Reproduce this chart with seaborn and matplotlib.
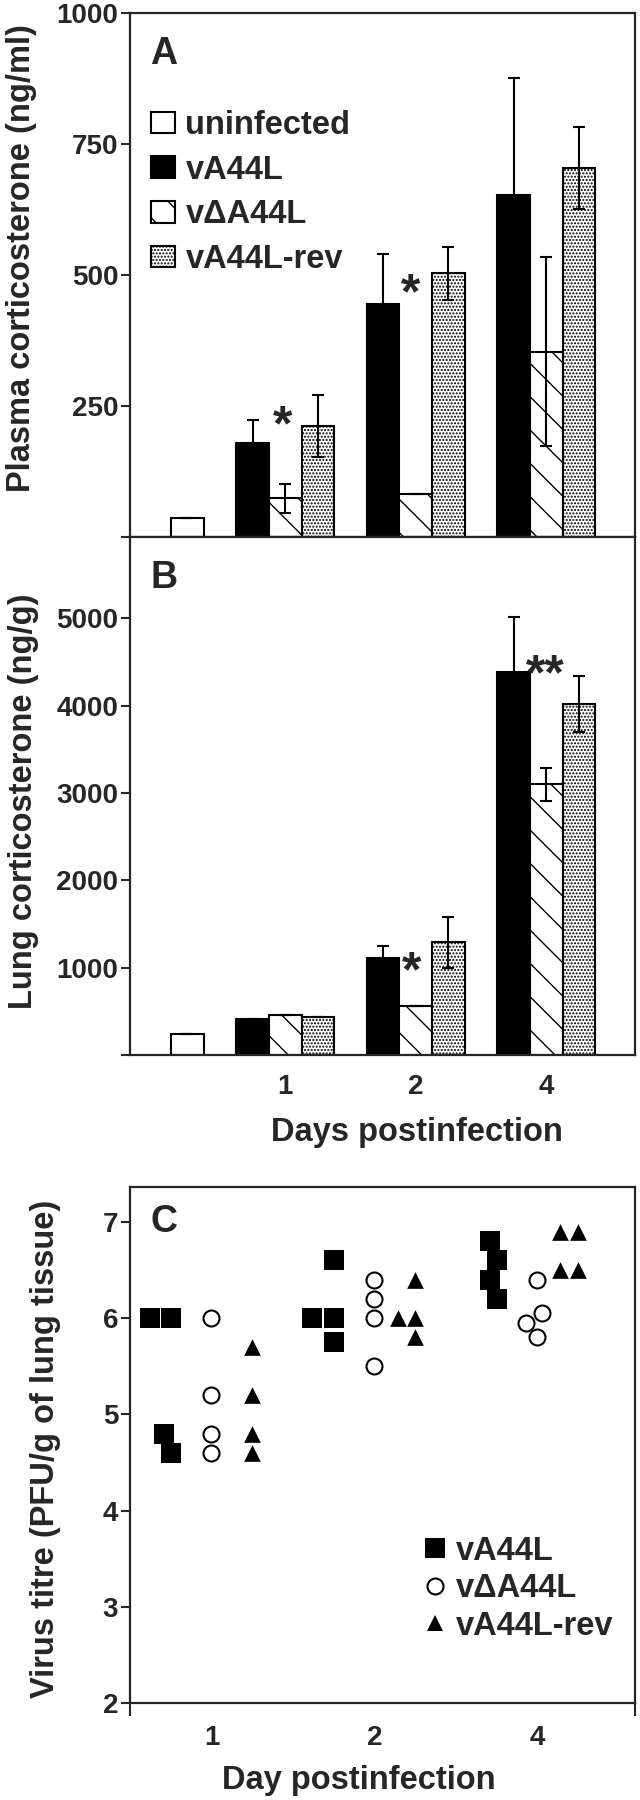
import numpy as np
import pandas as pd
import matplotlib
matplotlib.use("Agg")
import matplotlib.pyplot as plt
from matplotlib.patches import Patch
from matplotlib.lines import Line2D
import seaborn as sns

# groups and days
groups = ["uninfected", "vA44L", "vΔA44L", "vA44L-rev"]
days = ["1", "2", "4"]

# A: plasma corticosterone (ng/ml)
plasma_uninf = 36
plasma_uninf_err = 0
plasma_vA44L = [180, 445, 652]
plasma_vA44L_err = [44, 96, 224]
plasma_del = [74, 83, 354]
plasma_del_err = [28, 0, 181]
plasma_rev = [212, 503, 704]
plasma_rev_err = [59, 51, 78]

# B: lung corticosterone (ng/g)
lung_uninf = 237
lung_uninf_err = 0
lung_vA44L = [408, 1106, 4388]
lung_vA44L_err = [0, 143, 624]
lung_del = [461, 563, 3100]
lung_del_err = [0, 0, 190]
lung_rev = [437, 1290, 4020]
lung_rev_err = [0, 295, 318]

# C: virus titre, 4 mice per group per day
titre_vA44L = [[6.0, 6.0, 4.8, 4.6], [6.6, 6.0, 6.0, 5.75], [6.8, 6.6, 6.4, 6.2]]
titre_del = [[6.0, 5.2, 4.8, 4.6], [6.4, 6.2, 6.0, 5.5], [6.4, 6.05, 5.95, 5.8]]
titre_rev = [[5.7, 5.2, 4.8, 4.6], [6.4, 6.0, 6.0, 5.8], [6.9, 6.9, 6.5, 6.5]]

sns.set_style("ticks")
plt.rcParams["font.family"] = ["Liberation Sans", "DejaVu Sans"]
plt.rcParams["font.weight"] = "bold"
plt.rcParams["axes.labelweight"] = "bold"
plt.rcParams["hatch.linewidth"] = 1.0

face = {"uninfected": "white", "vA44L": "black", "vΔA44L": "white", "vA44L-rev": "white"}
hatch = {"uninfected": "", "vA44L": "", "vΔA44L": "\\", "vA44L-rev": "....."}
offset = {"vA44L": -0.25, "vΔA44L": 0.0, "vA44L-rev": 0.25}


def bar_table(uninf, uninf_err, series):
    rows = [("uninfected", 0.25, uninf, uninf_err)]
    for g, (vals, errs) in series.items():
        for i in range(len(days)):
            rows.append((g, i + 1 + offset[g], vals[i], errs[i]))
    return pd.DataFrame(rows, columns=["grp", "pos", "val", "err"])


dfA = bar_table(plasma_uninf, plasma_uninf_err,
                {"vA44L": (plasma_vA44L, plasma_vA44L_err),
                 "vΔA44L": (plasma_del, plasma_del_err),
                 "vA44L-rev": (plasma_rev, plasma_rev_err)})
dfB = bar_table(lung_uninf, lung_uninf_err,
                {"vA44L": (lung_vA44L, lung_vA44L_err),
                 "vΔA44L": (lung_del, lung_del_err),
                 "vA44L-rev": (lung_rev, lung_rev_err)})

W, H = 640, 1800
fig = plt.figure(figsize=(6.4, 18), dpi=100)
axA = fig.add_axes([130 / W, 1 - 537 / H, 505 / W, 524 / H])
axB = fig.add_axes([130 / W, 1 - 1055 / H, 505 / W, 518 / H])
axC = fig.add_axes([130 / W, 1 - 1703 / H, 505 / W, 516 / H])

FS_TICK = 20
FS_LAB = 23.5


def draw_bars(ax, df):
    sns.barplot(data=df, x="pos", y="val", hue="grp", hue_order=groups,
                native_scale=True, dodge=False, width=1, errorbar=None,
                palette=face, saturation=1, edgecolor="black", linewidth=1.5,
                legend=False, orient="x", ax=ax)
    for p in ax.patches:
        cx = p.get_x() + p.get_width() / 2
        g = df.loc[np.isclose(df["pos"], cx), "grp"]
        if len(g):
            p.set_hatch(hatch[g.iloc[0]])
            p.set_edgecolor("black")
    ax.errorbar(df["pos"], df["val"], yerr=df["err"], fmt="none", ecolor="black",
                elinewidth=1.5, capsize=4.5, capthick=1.5, zorder=5)
    ax.set_xlim(-0.19, 3.68)
    ax.set_xlabel("")
    ax.set_ylabel("")
    for s in ax.spines.values():
        s.set_linewidth(1.6)
        s.set_visible(True)
    ax.tick_params(axis="y", direction="out", length=6.5, width=1.5,
                   labelsize=FS_TICK, pad=2)


def star(ax, x, y, s, fs=36):
    ax.annotate(s, xy=(x, y), xytext=(0, -0.58 * fs), textcoords="offset points",
                ha="center", va="baseline", fontsize=fs, fontweight="bold")


# panel A
draw_bars(axA, dfA)
axA.set_ylim(0, 1000)
axA.set_yticks([0, 250, 500, 750, 1000], ["", "250", "500", "750", "1000"])
axA.set_xticks([])
axA.text(0.07, 921, "A", ha="center", va="center", fontsize=27, fontweight="bold")
star(axA, 0.98, 239, "*")
star(axA, 1.96, 491, "*")
handles = [Patch(facecolor=face[g], edgecolor="black", hatch=hatch[g], linewidth=1.5)
           for g in groups]
axA.legend(handles, groups, loc="upper left", bbox_to_anchor=(0.042, 0.815),
           frameon=False, fontsize=FS_LAB, handlelength=0.74, handleheight=0.65,
           handletextpad=0.31, labelspacing=0.42, borderpad=0, borderaxespad=0)

# panel B
draw_bars(axB, dfB)
axB.set_ylim(0, 5930)
axB.set_yticks(range(0, 6000, 1000), ["", "1000", "2000", "3000", "4000", "5000"])
axB.set_xticks([1, 2, 3], days)
axB.tick_params(axis="x", length=0, labelsize=FS_TICK, pad=14)
axB.text(0.07, 5461, "B", ha="center", va="center", fontsize=27, fontweight="bold")
star(axB, 1.97, 1114, "*")
star(axB, 2.99, 4522, "**")

# panel C
markers = {"vA44L": ("s", "black", 14.5), "vΔA44L": ("o", "white", 11.5),
           "vA44L-rev": ("^", "black", 12)}
titres = {"vA44L": titre_vA44L, "vΔA44L": titre_del, "vA44L-rev": titre_rev}
for g, vals in titres.items():
    xs = [i + 1 + offset[g] for i in range(len(days)) for _ in vals[i]]
    ys = [v for day_vals in vals for v in day_vals]
    m, c, sz = markers[g]
    sns.swarmplot(x=xs, y=ys, native_scale=True, orient="x", marker=m, color=c,
                  edgecolor="black", linewidth=1.5 if c == "white" else 0,
                  size=sz, ax=axC)
axC.set_xlim(0.5, 3.6)
axC.set_ylim(2, 7.364)
axC.set_yticks(range(2, 8))
axC.set_xticks([1, 2, 3], days)
axC.set_xticks([0.5, 3.6], minor=True)
axC.tick_params(axis="y", direction="out", length=6.5, width=1.5, labelsize=FS_TICK, pad=2)
axC.tick_params(axis="x", which="major", length=0, labelsize=FS_TICK, pad=16)
axC.tick_params(axis="x", which="minor", direction="out", length=9, width=1.5)
for s in axC.spines.values():
    s.set_linewidth(1.6)
    s.set_visible(True)
axC.text(0.71, 7.0, "C", ha="center", va="center", fontsize=27, fontweight="bold")
c_handles = [Line2D([], [], linestyle="none", marker=markers[g][0],
                    markerfacecolor=markers[g][1], markeredgecolor="black",
                    markeredgewidth=1.5 if markers[g][1] == "white" else 0,
                    markersize=markers[g][2]) for g in titres]
axC.legend(c_handles, list(titres), loc="upper left", bbox_to_anchor=(0.584, 0.324),
           frameon=False, fontsize=FS_LAB, handlelength=0.6, handletextpad=0.35,
           labelspacing=0.2, borderpad=0, borderaxespad=0)

# axis titles
fig.text(22 / W, 1 - 258 / H, "Plasma corticosterone (ng/ml)", rotation=90,
         ha="center", va="center", fontsize=FS_LAB, fontweight="bold")
fig.text(24 / W, 1 - 801 / H, "Lung corticosterone (ng/g)", rotation=90,
         ha="center", va="center", fontsize=FS_LAB, fontweight="bold")
fig.text(46 / W, 1 - 1449 / H, "Virus titre (PFU/g of lung tissue)", rotation=90,
         ha="center", va="center", fontsize=FS_LAB, fontweight="bold")
fig.text(417 / W, 1 - 1132 / H, "Days postinfection", ha="center", va="center",
         fontsize=FS_LAB, fontweight="bold")
fig.text(359 / W, 1 - 1780 / H, "Day postinfection", ha="center", va="center",
         fontsize=FS_LAB, fontweight="bold")

fig.savefig("out.png", dpi=100)
